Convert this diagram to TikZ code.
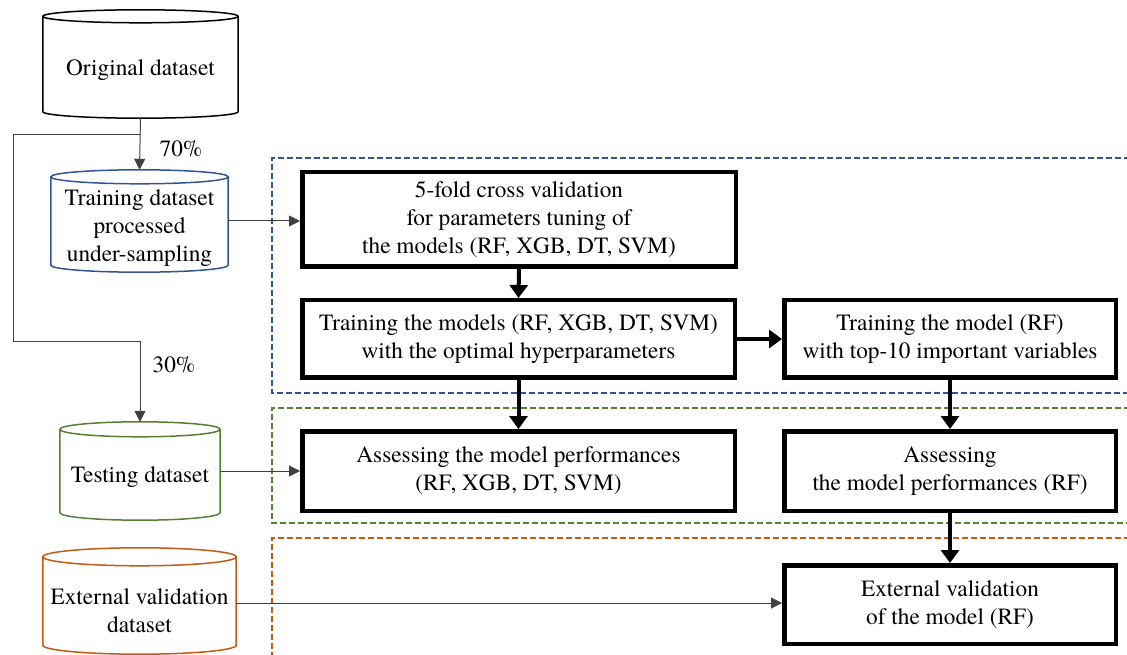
\documentclass[tikz,border=0pt]{standalone}
\usepackage{fontspec}
\setmainfont{TeX Gyre Termes}
\usetikzlibrary{arrows.meta,calc}
\definecolor{cblue}{RGB}{47,85,151}
\definecolor{cgreen}{RGB}{84,130,53}
\definecolor{corange}{RGB}{197,90,17}
\definecolor{cgray}{RGB}{64,64,64}
% #1 node name, #2 ellipse y radius, #3 draw options
\newcommand\drawcyl[3]{%
  \draw[#3] let \p1=(#1.north west), \p2=(#1.south east), \n1={(\x2-\x1)/2} in
    (\x1,\y1-#2) -- (\x1,\y2+#2)
    arc[start angle=180,end angle=360,x radius=\n1,y radius=#2]
    -- (\x2,\y1-#2)
    arc[start angle=0,end angle=180,x radius=\n1,y radius=#2]
    arc[start angle=180,end angle=360,x radius=\n1,y radius=#2];
}
\begin{document}
\begin{tikzpicture}[x=1pt,y=1pt,
  every node/.style={font=\fontsize{23.3}{28}\selectfont, align=center},
  procbox/.style={draw, line width=4.5pt, inner sep=0pt},
  cylbox/.style={inner sep=0pt},
  thinarrow/.style={draw=cgray, line width=1pt, -{Triangle[length=11pt,width=11pt]}},
  thickarrow/.style={line width=4pt, -{Triangle[length=13pt,width=18pt]}},
  region/.style={line width=1.5pt, dash pattern=on 6pt off 3pt}]
\useasboundingbox (0,0) rectangle (1127,654);

% dashed regions
\draw[region, cblue] (1130,496) -- (272,496) -- (272,261) -- (1130,261);
\draw[region, cgreen] (1130,246) -- (272,246) -- (272,131) -- (1130,131);
\draw[region, corange] (1130,116) -- (272,116) -- (272,-5);

% cylinders
\node[cylbox, minimum width=195, minimum height=108] (orig) at (140.5,590) {};
\node (origT) at (140.5,584) {Original dataset};
\drawcyl{orig}{6.5pt}{line width=1.5pt, black}

\node[cylbox, minimum width=177, minimum height=102] (train) at (139.5,433) {};
\node (trainT) at (139.5,426) {Training dataset\\processed\\under-sampling};
\drawcyl{train}{7pt}{line width=1.5pt, cblue}

\node[cylbox, minimum width=160, minimum height=98] (test) at (140,183) {};
\node (testT) at (140,177) {Testing dataset};
\drawcyl{test}{7.5pt}{line width=1.5pt, cgreen}

\node[cylbox, minimum width=193, minimum height=106] (ext) at (139.5,53) {};
\node (extT) at (139.5,43) {External validation\\dataset};
\drawcyl{ext}{9pt}{line width=1.5pt, corange}

% process boxes
\node[procbox, minimum width=433.5, minimum height=94.5] (b1) at (519,434.5)
  {5-fold cross validation\\for parameters tuning  of\\the models (RF, XGB, DT, SVM)};
\node[procbox, minimum width=432.5, minimum height=77.5] (b2) at (518.5,315)
  {Training the models (RF, XGB, DT, SVM)\\with  the optimal hyperparameters};
\node[procbox, minimum width=331.5, minimum height=77.5] (b3) at (950,315)
  {Training the model (RF)\\with top-10 important variables};
\node[procbox, minimum width=432.5, minimum height=79.5] (b4) at (518.5,183)
  {Assessing the model performances\\(RF, XGB, DT, SVM)};
\node[procbox, minimum width=331.5, minimum height=79.5] (b5) at (950,183)
  {Assessing\\the model performances (RF)};
\node[procbox, minimum width=331.5, minimum height=78.5] (b6) at (950,49.5)
  {External validation\\of the model (RF)};

% thin connectors
\coordinate (split) at (orig.south |- 0,519);
\coordinate (turn) at (13,312);
\draw[thinarrow] (orig.south) -- (train.north);
\draw[thinarrow] (split) -| (turn) -| (test.north);
\node (p70) at (181,505) {70\%};
\node (p30) at (174,289) {30\%};
\draw[thinarrow] (train.east) -- (train.east -| b1.west);
\draw[thinarrow] (test.east) -- (test.east -| b4.west);
\draw[thinarrow] ([yshift=-2pt]ext.east) -- ([yshift=-2pt]ext.east -| b6.west);

% thick connectors
\draw[thickarrow] (b1.south) -- (b2.north);
\draw[thickarrow] (b2.east) -- (b3.west);
\draw[thickarrow] (b2.south) -- (b4.north);
\draw[thickarrow] (b3.south) -- (b5.north);
\draw[thickarrow] (b5.south) -- (b6.north);
\end{tikzpicture}
\end{document}
